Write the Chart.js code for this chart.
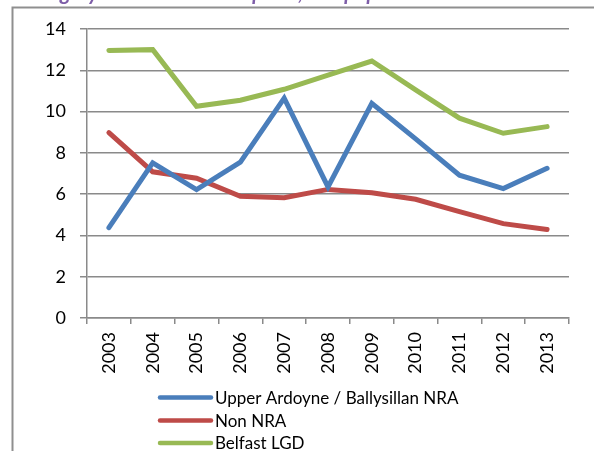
<!DOCTYPE html>
<html>
<head>
<meta charset="utf-8">
<script src="https://cdn.jsdelivr.net/npm/chart.js@4"></script>
<style>
html,body{margin:0;padding:0;background:#fff;}
canvas{display:block;}
</style>
</head>
<body>
<canvas id="c" width="594" height="451"></canvas>
<script>
const categories = ["2003","2004","2005","2006","2007","2008","2009","2010","2011","2012","2013"];
const seriesNames = ["Upper Ardoyne / Ballysillan NRA","Non NRA","Belfast LGD"];
const upperArdoyne = [4.38, 7.52, 6.22, 7.55, 10.65, 6.35, 10.4, 8.68, 6.92, 6.27, 7.25];
const nonNRA = [8.98, 7.08, 6.77, 5.9, 5.83, 6.23, 6.07, 5.75, 5.15, 4.57, 4.29];
const belfastLGD = [12.96, 13.0, 10.26, 10.55, 11.08, 11.77, 12.45, 11.05, 9.68, 8.95, 9.27];
const yTicks = [0, 2, 4, 6, 8, 10, 12, 14];
const titleText = "Surgery Admissions Rate per 1,000 population";

const colors = ["#4A7EBB", "#BE4B48", "#98B954"];
const FONT = "Lato, 'Open Sans', sans-serif";

const framePlugin = {
  id: 'frame',
  beforeDraw(chart) {
    const ctx = chart.ctx;
    ctx.save();
    ctx.strokeStyle = '#8f8f8f';
    ctx.lineWidth = 2;
    ctx.beginPath();
    ctx.moveTo(12.5, 451);
    ctx.lineTo(12.5, 7.5);
    ctx.lineTo(594, 7.5);
    ctx.stroke();
    // partially clipped title (only descenders visible, as in the reference)
    ctx.fillStyle = '#7E5EA8';
    ctx.font = "italic bold 21px " + FONT;
    ctx.textBaseline = 'alphabetic';
    ctx.textAlign = 'left';
    const off = ctx.measureText("Sur").width;
    ctx.fillText(titleText, 60 - off, -0.5);
    ctx.restore();
  }
};

const legendPlugin = {
  id: 'customLegend',
  afterDraw(chart) {
    const ctx = chart.ctx;
    ctx.save();
    const ys = [397.5, 420.5, 443];
    chart.data.datasets.forEach((ds, i) => {
      ctx.strokeStyle = ds.borderColor;
      ctx.lineWidth = 4.5;
      ctx.lineCap = 'round';
      ctx.beginPath();
      ctx.moveTo(160, ys[i]);
      ctx.lineTo(211, ys[i]);
      ctx.stroke();
      ctx.fillStyle = '#000';
      ctx.font = "17px " + FONT;
      ctx.textBaseline = 'middle';
      ctx.textAlign = 'left';
      ctx.fillText(ds.label, 215, ys[i] + 1);
    });
    ctx.restore();
  }
};

new Chart(document.getElementById('c'), {
  type: 'line',
  data: {
    labels: categories,
    datasets: [
      { label: seriesNames[0], data: upperArdoyne, borderColor: colors[0], backgroundColor: colors[0] },
      { label: seriesNames[1], data: nonNRA, borderColor: colors[1], backgroundColor: colors[1] },
      { label: seriesNames[2], data: belfastLGD, borderColor: colors[2], backgroundColor: colors[2] }
    ].map(d => Object.assign(d, { borderWidth: 5, pointRadius: 0, tension: 0, fill: false, borderCapStyle: 'round', borderJoinStyle: 'miter' }))
  },
  options: {
    responsive: false,
    animation: false,
    devicePixelRatio: 1,
    layout: { padding: { top: 29, right: 25, left: 0, bottom: 0 } },
    plugins: { legend: { display: false }, tooltip: { enabled: false }, title: { display: false } },
    scales: {
      x: {
        offset: true,
        grid: { offset: true, drawOnChartArea: false, drawTicks: true, tickLength: 6, color: '#8a8a8a', lineWidth: 1.5 },
        border: { color: '#8a8a8a', width: 1.5 },
        ticks: { minRotation: 90, maxRotation: 90, autoSkip: false, color: '#000', font: { family: FONT, size: 18 }, padding: 8 },
        afterFit(scale) { scale.height = 133; }
      },
      y: {
        min: 0, max: 14,
        afterBuildTicks(scale) { scale.ticks = yTicks.map(v => ({ value: v })); },
        grid: { color: '#8a8a8a', lineWidth: 1.5, tickLength: 7 },
        border: { color: '#8a8a8a', width: 1.5 },
        ticks: { color: '#000', font: { family: FONT, size: 18 }, padding: 14 },
        afterFit(scale) { scale.width = 87; }
      }
    }
  },
  plugins: [framePlugin, legendPlugin]
});
</script>
</body>
</html>
